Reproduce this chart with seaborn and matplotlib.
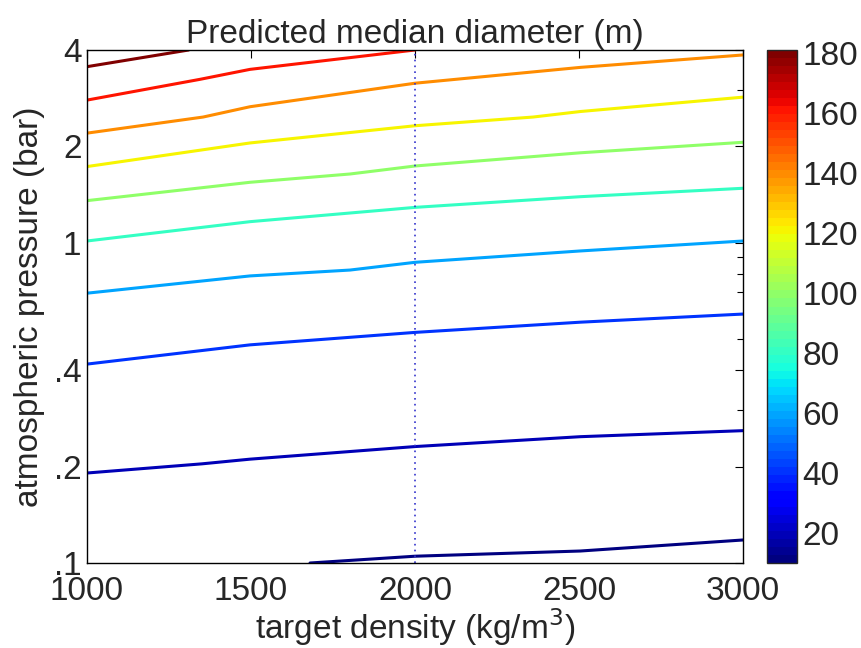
import numpy as np
import pandas as pd
import matplotlib
matplotlib.use("Agg")
import matplotlib.pyplot as plt
import seaborn as sns
from matplotlib.colors import Normalize
from matplotlib.cm import ScalarMappable
from matplotlib.ticker import FixedLocator, NullFormatter

# contour levels (median diameter, m) and their traced paths
levels = [10, 20, 40, 60, 80, 100, 120, 140, 160, 180]

dens_10 = [1680, 2000, 2504, 3000]
pres_10 = [0.100, 0.105, 0.109, 0.118]

dens_20 = [1000, 1350, 1497, 2000, 2504, 3000]
pres_20 = [0.191, 0.204, 0.211, 0.231, 0.248, 0.259]

dens_40 = [1000, 1497, 2000, 2504, 3000]
pres_40 = [0.418, 0.480, 0.525, 0.565, 0.599]

dens_60 = [1000, 1497, 1802, 2000, 2504, 3000]
pres_60 = [0.696, 0.788, 0.822, 0.869, 0.943, 1.013]

dens_80 = [1000, 1497, 2000, 2504, 3000]
pres_80 = [1.013, 1.164, 1.290, 1.393, 1.480]

dens_100 = [1000, 1497, 1802, 2000, 2504, 3000]
pres_100 = [1.354, 1.545, 1.640, 1.737, 1.910, 2.060]

dens_120 = [1000, 1497, 2000, 2360, 2504, 3000]
pres_120 = [1.730, 2.050, 2.320, 2.470, 2.570, 2.850]

dens_140 = [1000, 1354, 1497, 2000, 2504, 3000]
pres_140 = [2.200, 2.470, 2.660, 3.150, 3.530, 3.860]

dens_160 = [1000, 1345, 1497, 2000]
pres_160 = [2.790, 3.240, 3.480, 4.000]

dens_180 = [1000, 1310]
pres_180 = [3.548, 4.000]

all_dens = [dens_10, dens_20, dens_40, dens_60, dens_80, dens_100,
            dens_120, dens_140, dens_160, dens_180]
all_pres = [pres_10, pres_20, pres_40, pres_60, pres_80, pres_100,
            pres_120, pres_140, pres_160, pres_180]

marker_density = 2000
x_ticks = [1000, 1500, 2000, 2500, 3000]
y_ticks = [0.1, 0.2, 0.4, 1, 2, 4]
y_ticklabels = [".1", ".2", ".4", "1", "2", "4"]
cbar_ticks = [20, 40, 60, 80, 100, 120, 140, 160, 180]
cbar_range = (10, 181)

rows = []
for lev, ds, ps in zip(levels, all_dens, all_pres):
    for i, (d, p) in enumerate(zip(ds, ps)):
        rows.append({"level": lev, "order": i, "density": d, "pressure": p})
df = pd.DataFrame(rows)

sns.set_style("white")
plt.rcParams["font.family"] = ["Liberation Sans", "DejaVu Sans"]

FS = 24

fig = plt.figure(figsize=(8.61, 6.48), dpi=100)
ax = fig.add_axes([87 / 861, 85 / 648, 656 / 861, 513 / 648])

cmap = matplotlib.colormaps["jet"].resampled(64)
norm = Normalize(*cbar_range)

sns.lineplot(data=df, x="density", y="pressure", hue="level", units="level",
             estimator=None, sort=False, palette=cmap, hue_norm=norm,
             linewidth=2.2, legend=False, ax=ax)

ax.axvline(marker_density, color="#3333cc", linestyle=(0, (1, 2.5)), linewidth=1.2)

ax.set_yscale("log")
ax.set_xlim(1000, 3000)
ax.set_ylim(0.1, 4)
ax.set_xticks(x_ticks)
ax.set_xticklabels([str(t) for t in x_ticks])
ax.yaxis.set_major_locator(FixedLocator(y_ticks))
ax.set_yticklabels(y_ticklabels)
ax.yaxis.set_minor_locator(FixedLocator([0.3, 0.5, 0.6, 0.7, 0.8, 0.9, 3]))
ax.yaxis.set_minor_formatter(NullFormatter())

ax.tick_params(which="both", direction="in", top=True, right=True,
               labelsize=FS, color="black")
ax.tick_params(which="major", length=6, width=0.8)
ax.tick_params(which="minor", length=4, width=0.8)
ax.tick_params(axis="x", pad=9)
ax.tick_params(axis="y", pad=4)
for s in ax.spines.values():
    s.set_visible(True)
    s.set_color("black")
    s.set_linewidth(1.0)

ax.set_xlabel("target density (kg/m$^3$)", fontsize=FS, labelpad=0)
ax.set_ylabel("atmospheric pressure (bar)", fontsize=FS, labelpad=6)
ax.set_title("Predicted median diameter (m)", fontsize=FS, pad=5)

cax = fig.add_axes([767 / 861, 85 / 648, 30 / 861, 513 / 648])
sm = ScalarMappable(norm=norm, cmap=cmap)
cb = fig.colorbar(sm, cax=cax, ticks=cbar_ticks)
cb.outline.set_linewidth(1.0)
cax.tick_params(direction="in", left=True, right=True, length=5,
                labelsize=FS, pad=4)

fig.savefig("out.png", dpi=100)
